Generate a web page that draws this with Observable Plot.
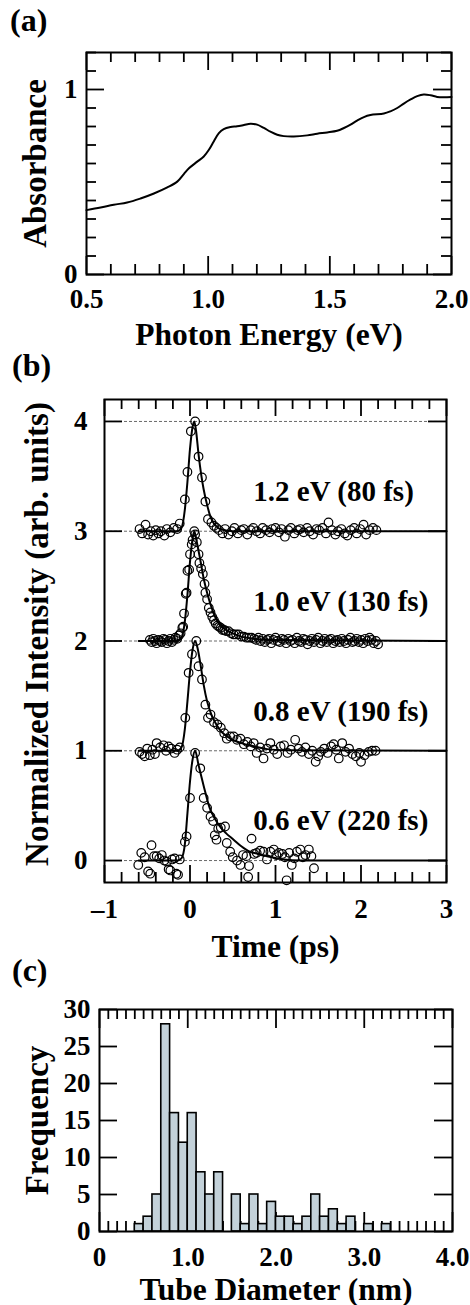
<!DOCTYPE html>
<html><head><meta charset="utf-8">
<script src="https://cdn.jsdelivr.net/npm/d3@7"></script>
<script src="https://cdn.jsdelivr.net/npm/@observablehq/plot@0.6"></script>
<style>
html,body{margin:0;padding:0;background:#fff;}
body{width:470px;height:1305px;position:relative;overflow:hidden;font-family:"Liberation Serif","Times New Roman",serif;font-weight:bold;}
.panel{position:absolute;left:0;}
.lab{position:absolute;font-size:32px;font-weight:bold;line-height:1;white-space:nowrap;}
</style></head><body>
<div id="pa" class="panel" style="top:0"></div>
<div id="pb" class="panel" style="top:350px"></div>
<div id="pc" class="panel" style="top:965px"></div>
<div class="lab" style="left:10px;top:4px">(a)</div>
<div class="lab" style="left:12px;top:349px">(b)</div>
<div class="lab" style="left:12px;top:954px">(c)</div>
<script>
// ---------- Panel (a): absorbance spectrum ----------
const energyEV = [0.5,0.558,0.612,0.667,0.722,0.777,0.832,0.873,0.900,0.921,0.955,0.982,1.003,1.023,1.044,1.064,1.092,1.119,1.147,1.174,1.201,1.229,1.256,1.284,1.311,1.352,1.407,1.448,1.489,1.530,1.558,1.585,1.612,1.640,1.667,1.722,1.749,1.777,1.804,1.832,1.859,1.886,1.914,1.941,1.968,2.0];
const absorbance = [0.348,0.362,0.377,0.389,0.411,0.438,0.471,0.502,0.543,0.574,0.610,0.638,0.674,0.719,0.764,0.786,0.797,0.801,0.808,0.815,0.810,0.792,0.772,0.755,0.748,0.746,0.752,0.761,0.768,0.777,0.792,0.810,0.832,0.851,0.862,0.870,0.882,0.900,0.924,0.946,0.964,0.973,0.969,0.960,0.958,0.960];
const aXTickLabels = [0.5,1.0,1.5,2.0];
const aYTickLabels = [0,1];

// ---------- Panel (b): time-resolved traces ----------
const traceNames = ["1.2 eV (80 fs)","1.0 eV (130 fs)","0.8 eV (190 fs)","0.6 eV (220 fs)"];
const traceOffsets = [3,2,1,0];

const t12 = [-0.59,-0.56,-0.52,-0.49,-0.46,-0.43,-0.40,-0.37,-0.34,-0.30,-0.27,-0.23,-0.19,-0.15,-0.12,-0.06,-0.03,0.01,0.06,0.10,0.14,0.18,0.21,0.25,0.28,
 0.31,0.34,0.38,0.41,0.45,0.49,0.52,0.56,0.60,0.63,0.67,0.71,0.74,0.78,0.82,0.85,0.89,0.93,0.96,1.00,1.04,1.07,1.11,1.15,1.18,1.22,1.26,1.29,1.33,1.37,1.40,1.44,1.48,1.51,1.55,1.59,1.62,1.66,1.70,1.73,1.77,1.81,1.84,1.88,1.92,1.95,1.99,2.03,2.06,2.10,2.14,2.18];
const i12 = [0.02,-0.02,0.06,-0.03,0.00,-0.04,0.01,-0.02,0.00,-0.04,0.02,-0.01,0.03,0.02,0.07,0.29,0.54,0.91,1.00,0.68,0.49,0.27,0.11,0.08,0.05,
 0.03,0.01,-0.02,0.02,-0.03,0.00,0.03,-0.02,0.01,0.02,-0.03,0.01,0.03,0.00,-0.02,0.03,0.01,-0.01,0.02,0.03,-0.01,0.02,-0.05,0.01,0.03,-0.02,0.01,0.02,-0.01,0.03,0.00,-0.03,0.02,0.01,0.03,-0.02,0.08,0.01,-0.03,0.00,0.02,-0.02,-0.04,0.01,0.03,-0.02,0.02,0.06,-0.03,0.01,0.03,0.01];

const t10 = [-0.47,-0.45,-0.43,-0.41,-0.39,-0.37,-0.35,-0.33,-0.31,-0.29,-0.27,-0.25,-0.23,-0.21,-0.19,-0.17,-0.15,-0.13,
 -0.11,-0.09,-0.08,-0.07,-0.05,-0.04,-0.03,-0.01,0.00,0.02,0.03,0.05,
 0.06,0.08,0.10,0.11,0.13,0.15,0.17,0.18,0.20,0.22,0.24,0.26,0.28,0.30,0.32,0.34,0.36,0.38,0.40,0.42,0.45,0.48,0.51,0.54,0.57,0.60,0.63,0.66,0.69,0.72,
 0.75,0.775,0.80,0.825,0.85,0.875,0.90,0.925,0.95,0.975,1.00,1.025,1.05,1.075,1.10,1.125,1.15,1.175,1.20,1.225,1.25,1.275,1.30,1.325,1.35,1.375,1.40,1.425,1.45,1.475,1.50,1.525,1.55,1.575,1.60,1.625,1.65,1.675,1.70,1.725,1.75,1.775,1.80,1.825,1.85,1.875,1.90,1.925,1.95,1.975,2.00,2.025,2.05,2.075,2.10,2.125,2.15,2.175,2.20];
const i10 = [0.01,-0.01,0.02,0.00,-0.02,0.01,0.00,-0.01,0.02,0.01,-0.02,0.00,0.02,-0.01,0.01,0.03,0.02,0.05,
 0.07,0.12,0.13,0.25,0.43,0.44,0.64,0.65,0.79,0.88,0.92,1.00,
 0.97,0.90,0.79,0.71,0.66,0.61,0.52,0.44,0.38,0.30,0.26,0.22,0.19,0.16,0.14,0.13,0.12,0.10,0.10,0.09,0.09,0.07,0.06,0.06,0.06,0.04,0.04,0.03,0.03,0.03,
 0.02,0.01,0.03,0.00,0.02,-0.01,0.01,0.02,-0.02,0.01,0.03,0.00,-0.01,0.02,0.01,-0.02,0.02,0.00,0.01,-0.02,0.03,0.00,-0.01,0.02,0.01,-0.03,0.00,0.02,-0.01,0.01,0.03,-0.02,0.00,0.02,-0.01,0.01,0.02,-0.02,0.00,0.01,-0.01,0.02,0.00,-0.02,0.01,0.03,-0.01,0.00,0.02,-0.01,0.01,-0.02,0.02,0.00,0.03,0.01,-0.02,0.00,-0.03];

const t08 = [-0.59,-0.56,-0.53,-0.50,-0.47,-0.44,-0.41,-0.39,-0.35,-0.31,-0.28,-0.25,-0.22,-0.18,-0.15,-0.12,-0.055,-0.016,0.023,0.074,0.10,0.14,0.18,0.21,0.24,0.28,0.32,0.36,0.40,0.43,0.47,0.51,0.55,0.59,0.63,0.67,0.71,0.745,0.78,0.82,0.86,0.90,0.94,0.98,1.02,1.06,1.10,1.14,1.18,1.23,1.27,1.31,1.35,1.39,1.43,1.47,1.50,1.53,1.57,1.61,1.65,1.68,1.71,1.74,1.78,1.82,1.86,1.90,1.94,1.98,2.00,2.04,2.09,2.13,2.17];
const i08 = [-0.01,-0.03,-0.05,0.02,-0.04,0.01,-0.03,0.07,0.03,0.05,0.00,0.04,0.02,-0.02,0.01,0.03,0.30,0.71,0.88,1.00,0.77,0.65,0.42,0.30,0.33,0.26,0.24,0.21,0.16,0.11,0.13,0.13,0.10,0.11,0.06,0.08,0.04,0.07,-0.02,0.03,-0.07,0.02,0.07,0.01,-0.03,0.04,0.05,-0.02,0.01,0.10,0.02,-0.01,0.03,-0.03,0.00,-0.10,-0.05,-0.01,0.02,-0.02,0.04,0.06,0.01,-0.07,0.07,-0.01,0.02,-0.03,-0.05,-0.02,-0.10,-0.04,-0.01,0.00,0.00];

const t06 = [-0.605,-0.57,-0.53,-0.49,-0.465,-0.45,-0.42,-0.39,-0.36,-0.33,-0.30,-0.27,-0.25,-0.23,-0.21,-0.18,-0.16,-0.14,-0.12,-0.06,-0.04,0.00,0.06,0.12,0.16,0.20,0.24,0.27,0.29,0.31,0.33,0.36,0.41,0.43,0.47,0.50,0.55,0.59,0.62,0.66,0.68,0.69,0.72,0.75,0.78,0.82,0.86,0.90,0.94,0.98,1.01,1.04,1.08,1.11,1.13,1.16,1.19,1.22,1.25,1.29,1.32,1.35,1.39,1.42,1.45];
const i06 = [-0.04,0.07,0.03,-0.10,-0.12,0.14,0.04,0.04,0.02,0.05,0.00,-0.01,-0.08,-0.09,0.01,0.02,-0.12,-0.13,0.01,0.17,0.22,0.57,0.98,0.84,0.57,0.48,0.40,0.36,0.23,0.19,0.29,0.30,0.31,0.16,0.08,0.03,0.00,-0.04,0.05,0.04,-0.15,-0.05,0.20,0.06,0.07,0.09,0.08,0.01,0.08,0.10,0.05,0.07,0.06,0.03,-0.18,0.07,-0.04,0.02,0.08,0.10,0.03,0.05,0.10,0.04,-0.07];

// fitted curves
const fitT12 = [-0.6,-0.15,-0.1,-0.06,-0.03,0.0,0.03,0.05,0.07,0.1,0.13,0.16,0.2,0.24,0.28,0.33,0.4,0.5,3.0];
const fitI12 = [0,0,0.03,0.2,0.45,0.75,0.95,1.0,0.92,0.7,0.52,0.38,0.24,0.13,0.07,0.03,0.01,0,0];
const fitT10 = [-0.6,-0.15,-0.1,-0.06,-0.03,0.0,0.03,0.05,0.08,0.12,0.16,0.2,0.25,0.3,0.35,0.42,0.5,0.6,0.75,0.9,3.0];
const fitI10 = [0,0,0.03,0.18,0.42,0.72,0.93,1.0,0.9,0.74,0.57,0.44,0.31,0.21,0.15,0.1,0.07,0.04,0.02,0.01,0];
const fitT08 = [-0.6,-0.15,-0.1,-0.06,-0.03,0.0,0.03,0.06,0.09,0.12,0.16,0.2,0.25,0.3,0.35,0.4,0.5,0.6,0.75,0.9,1.1,3.0];
const fitI08 = [0,0,0.03,0.2,0.45,0.72,0.92,1.0,0.93,0.8,0.6,0.45,0.33,0.25,0.19,0.15,0.1,0.07,0.04,0.015,0.005,0];
const fitT06 = [-0.6,-0.15,-0.1,-0.06,-0.03,0.0,0.03,0.06,0.1,0.16,0.23,0.3,0.35,0.42,0.51,0.6,0.7,0.8,0.9,1.1,1.3,3.0];
const fitI06 = [0,0,0.02,0.15,0.43,0.72,0.92,1.0,0.87,0.68,0.48,0.37,0.31,0.25,0.19,0.13,0.08,0.06,0.04,0.01,0,0];

const bXTickLabels = [-1,0,1,2,3];
const bYTickLabels = [0,1,2,3,4];

// ---------- Panel (c): diameter histogram ----------
const binStart = [0.4,0.5,0.6,0.7,0.8,0.9,1.0,1.1,1.2,1.3,1.4,1.5,1.6,1.7,1.8,1.9,2.0,2.1,2.2,2.3,2.4,2.5,2.6,2.7,2.8,2.9,3.0,3.1,3.2];
const binCount = [1,2,5,28,16,12,16,8,5,8,0,5,1,5,1,4,2,2,1,2,5,2,3,1,2,0,1,0,1];
const cXTickLabels = [0,1.0,2.0,3.0,4.0];
const cYTickLabels = [0,5,10,15,20,25,30];

// ---------- helpers ----------
const FONT = "'Liberation Serif','Times New Roman',serif";
const TW = 1.8;
const TICKFS = 27, TITLEFS = 31.5, VTITLEFS = 33, ANNFS = 29;
function ticksX(vals, len, H) {
  return [
    Plot.tickX(vals, {x: d => d, insetTop: H - len, stroke: "black", strokeWidth: TW}),
    Plot.tickX(vals, {x: d => d, insetBottom: H - len, stroke: "black", strokeWidth: TW})
  ];
}
function ticksY(vals, len, W) {
  return [
    Plot.tickY(vals, {y: d => d, insetRight: W - len, stroke: "black", strokeWidth: TW}),
    Plot.tickY(vals, {y: d => d, insetLeft: W - len, stroke: "black", strokeWidth: TW})
  ];
}
const near = (v, arr) => arr.some(a => Math.abs(a - v) < 1e-6);
function rng(a, b, s) { const n = Math.round((b - a) / s); return d3.range(n + 1).map(i => +(a + i * s).toFixed(4)); }
const style = {fontFamily: FONT, fontWeight: "bold", fontSize: "26px", background: "transparent", overflow: "visible", color: "black"};
function yTitle(txt, dx, dy) {
  return Plot.text([txt], {text: d => d, frameAnchor: "left", textAnchor: "middle", lineAnchor: "middle", rotate: -90, dx, dy, fontSize: VTITLEFS});
}
function xTitle(txt, dy) {
  return Plot.text([txt], {text: d => d, frameAnchor: "bottom", textAnchor: "middle", lineAnchor: "top", dy, fontSize: TITLEFS});
}

// ---------- draw (a) ----------
{
  const width = 470, height = 350, mL = 86, mR = 19, mT = 52, mB = 76;
  const W = width - mL - mR, H = height - mT - mB;
  const xAll = rng(0.5, 2.0, 0.1), xMaj = [0.5,1.0,1.5,2.0];
  const yAll = rng(0, 1.2, 0.1), yMaj = [0, 1];
  const spec = energyEV.map((e, i) => ({e, a: absorbance[i]}));
  const chart = Plot.plot({
    width, height, marginLeft: mL, marginRight: mR, marginTop: mT, marginBottom: mB,
    style,
    x: {domain: [0.5, 2.0], axis: null},
    y: {domain: [0, 1.2], axis: null},
    marks: [
      ...ticksX(xAll.filter(v => !near(v, xMaj)), 10, H),
      ...ticksX(xMaj, 18, H),
      ...ticksY(yAll.filter(v => !near(v, yMaj)), 10, W),
      ...ticksY(yMaj, 18, W),
      Plot.line(spec, {x: "e", y: "a", curve: "catmull-rom", stroke: "black", strokeWidth: 2}),
      Plot.frame({stroke: "black", strokeWidth: 2}),
      Plot.text(aXTickLabels, {x: d => d, text: d => d.toFixed(1), frameAnchor: "bottom", textAnchor: "middle", lineAnchor: "top", dy: 14, fontSize: TICKFS}),
      Plot.text(aYTickLabels, {y: d => d, text: d => String(d), frameAnchor: "left", textAnchor: "end", lineAnchor: "middle", dx: -9, fontSize: TICKFS}),
      xTitle("Photon Energy (eV)", 48),
      yTitle("Absorbance", -51, 0)
    ]
  });
  document.getElementById("pa").append(chart);
}

// ---------- draw (b) ----------
{
  const width = 470, height = 615, mL = 104, mR = 24, mT = 49, mB = 83;
  const W = width - mL - mR, H = height - mT - mB;
  const xAll = rng(-1, 3, 0.2), xMaj = [-1,0,1,2,3];
  const ts = [t12, t10, t08, t06], is = [i12, i10, i08, i06];
  const fts = [fitT12, fitT10, fitT08, fitT06], fis = [fitI12, fitI10, fitI08, fitI06];
  const pts = [], fits = [];
  traceNames.forEach((name, k) => {
    ts[k].forEach((t, i) => pts.push({name, t, v: is[k][i] + traceOffsets[k]}));
    fts[k].forEach((t, i) => fits.push({name, t, v: fis[k][i] + traceOffsets[k]}));
  });
  const labels = traceNames.map((name, k) => ({name, y: traceOffsets[k] + 0.36}));
  const chart = Plot.plot({
    width, height, marginLeft: mL, marginRight: mR, marginTop: mT, marginBottom: mB,
    style,
    x: {domain: [-1, 3], axis: null},
    y: {domain: [-0.2, 4.2], axis: null},
    marks: [
      Plot.ruleY(bYTickLabels, {y: d => d, stroke: "#444", strokeWidth: 0.8, strokeDasharray: "3,2"}),
      ...ticksX(xAll.filter(v => !near(v, xMaj)), 10, H),
      ...ticksX(xMaj, 17, H),
      ...ticksY(bYTickLabels, 18, W),
      Plot.line(fits, {x: "t", y: "v", z: "name", curve: "monotone-x", stroke: "black", strokeWidth: 2}),
      Plot.dot(pts, {x: "t", y: "v", r: 4.3, stroke: "black", strokeWidth: 1.2, fill: "none"}),
      Plot.text(labels, {x: 0.74, y: "y", text: "name", textAnchor: "start", lineAnchor: "middle", fontSize: ANNFS}),
      Plot.frame({stroke: "black", strokeWidth: 2}),
      Plot.text(bXTickLabels, {x: d => d, text: d => d < 0 ? "\u2013" + Math.abs(d) : String(d), frameAnchor: "bottom", textAnchor: "middle", lineAnchor: "top", dy: 16, fontSize: TICKFS}),
      Plot.text(bYTickLabels, {y: d => d, text: d => String(d), frameAnchor: "left", textAnchor: "end", lineAnchor: "middle", dx: -17, fontSize: TICKFS}),
      xTitle("Time (ps)", 52),
      yTitle("Normalized Intensity (arb. units)", -67, -7)
    ]
  });
  document.getElementById("pb").append(chart);
}

// ---------- draw (c) ----------
{
  const width = 470, height = 340, mL = 99, mR = 18, mT = 44, mB = 74;
  const W = width - mL - mR, H = height - mT - mB;
  const xAll = rng(0, 4, 0.1), xMaj = [0,1,2,3,4];
  const bins = binStart.map((x0, i) => ({x0, x1: +(x0 + 0.1).toFixed(2), n: binCount[i]})).filter(d => d.n > 0);
  const chart = Plot.plot({
    width, height, marginLeft: mL, marginRight: mR, marginTop: mT, marginBottom: mB,
    style,
    x: {domain: [0, 4], axis: null},
    y: {domain: [0, 30], axis: null},
    marks: [
      ...ticksX(xAll.filter(v => !near(v, xMaj)), 10, H),
      ...ticksX(xMaj, 19, H),
      ...ticksY(cYTickLabels, 18, W),
      Plot.rectY(bins, {x1: "x0", x2: "x1", y: "n", fill: "#c3d1d9", stroke: "black", strokeWidth: 1.6}),
      Plot.frame({stroke: "black", strokeWidth: 2}),
      Plot.text(cXTickLabels, {x: d => d, text: d => d === 0 ? "0" : d.toFixed(1), frameAnchor: "bottom", textAnchor: "middle", lineAnchor: "top", dy: 15, fontSize: TICKFS}),
      Plot.text(cYTickLabels, {y: d => d, text: d => String(d), frameAnchor: "left", textAnchor: "end", lineAnchor: "middle", dx: -9, fontSize: TICKFS}),
      xTitle("Tube Diameter (nm)", 46),
      yTitle("Frequency", -62, 0)
    ]
  });
  document.getElementById("pc").append(chart);
}
</script>
</body></html>
